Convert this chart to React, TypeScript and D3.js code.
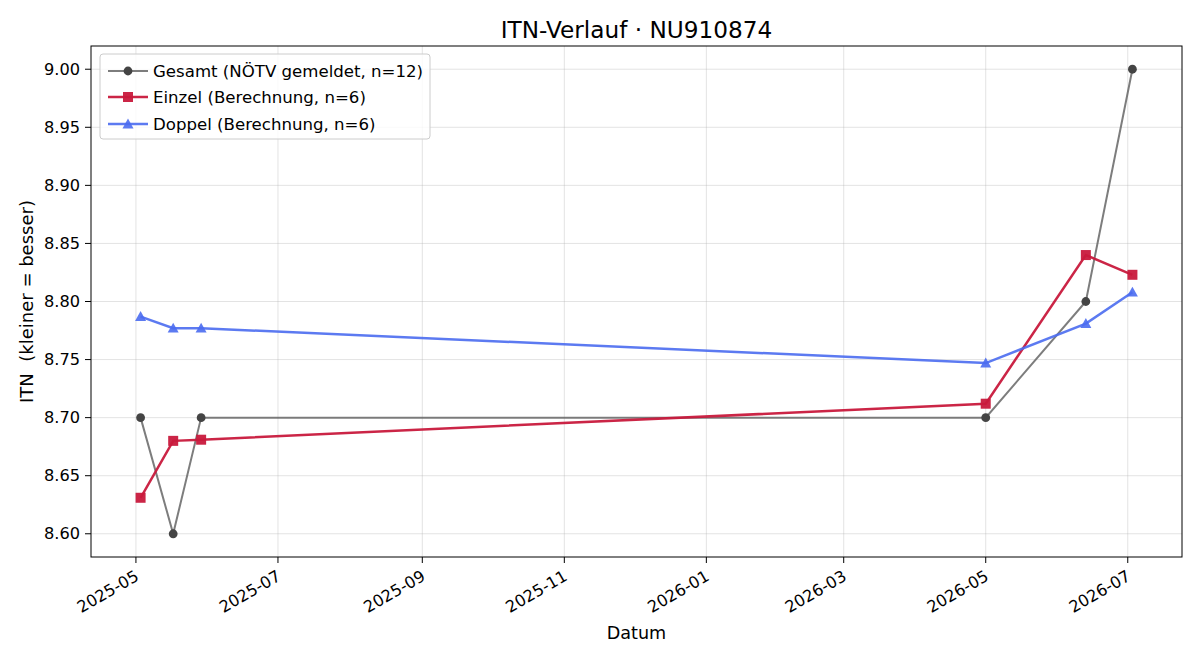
import React from "react";
import * as d3 from "d3";

const gesamtDates = ["2025-05-03", "2025-05-17", "2025-05-29", "2026-05-01", "2026-06-13", "2026-07-03"];
const gesamtValues = [8.7, 8.6, 8.7, 8.7, 8.8, 9.0];
const einzelDates = ["2025-05-03", "2025-05-17", "2025-05-29", "2026-05-01", "2026-06-13", "2026-07-03"];
const einzelValues = [8.631, 8.68, 8.681, 8.712, 8.84, 8.823];
const doppelDates = ["2025-05-03", "2025-05-17", "2025-05-29", "2026-05-01", "2026-06-13", "2026-07-03"];
const doppelValues = [8.787, 8.777, 8.777, 8.747, 8.781, 8.808];
const xTickDates = ["2025-05-01", "2025-07-01", "2025-09-01", "2025-11-01", "2026-01-01", "2026-03-01", "2026-05-01", "2026-07-01"];
const yTicks = [8.6, 8.65, 8.7, 8.75, 8.8, 8.85, 8.9, 8.95, 9.0];
const legendLabels = ["Gesamt (NÖTV gemeldet, n=12)", "Einzel (Berechnung, n=6)", "Doppel (Berechnung, n=6)"];

const W = 1200, H = 660;
const L = 91, R = 1182, T = 46, B = 557;
const FONT = "DejaVu Sans, sans-serif";

const parse = d3.utcParse("%Y-%m-%d");
const fmt = d3.utcFormat("%Y-%m");

export default function App() {
  const allDates = [...gesamtDates, ...einzelDates, ...doppelDates].map((d) => parse(d)!.getTime());
  const minD = d3.min(allDates)!, maxD = d3.max(allDates)!;
  const padX = (maxD - minD) * 0.05;
  const x = d3.scaleUtc().domain([new Date(minD - padX), new Date(maxD + padX)]).range([L, R]);
  const allV = [...gesamtValues, ...einzelValues, ...doppelValues];
  const minV = d3.min(allV)!, maxV = d3.max(allV)!;
  const padY = (maxV - minV) * 0.05;
  const y = d3.scaleLinear().domain([minV - padY, maxV + padY]).range([B, T]);

  const line = d3.line<[number, number]>().x((d) => d[0]).y((d) => d[1]);
  const pts = (ds: string[], vs: number[]) => ds.map((d, i) => [x(parse(d)!), y(vs[i])] as [number, number]);
  const gP = pts(gesamtDates, gesamtValues);
  const eP = pts(einzelDates, einzelValues);
  const dP = pts(doppelDates, doppelValues);

  const grey = "#666666";
  const red = "#c8193c";
  const blue = "#4a6cf0";

  const tri = (cx: number, cy: number, s: number) =>
    `M${cx},${cy - s} L${cx + s},${cy + s * 0.8} L${cx - s},${cy + s * 0.8} Z`;

  const legendY = [71, 97, 124];
  const tickFs = 16.2;

  return (
    <svg width={W} height={H} style={{ display: "block", position: "absolute", left: 0, top: 0 }} fontFamily={FONT}>
      <rect width={W} height={H} fill="white" />
      {/* grid */}
      {xTickDates.map((d) => (
        <line key={"gx" + d} x1={x(parse(d)!)} x2={x(parse(d)!)} y1={T} y2={B} stroke="#b0b0b0" strokeOpacity={0.35} strokeWidth={1} />
      ))}
      {yTicks.map((v) => (
        <line key={"gy" + v} x1={L} x2={R} y1={y(v)} y2={y(v)} stroke="#b0b0b0" strokeOpacity={0.35} strokeWidth={1} />
      ))}
      {/* Gesamt */}
      <path d={line(gP)!} fill="none" stroke={grey} strokeOpacity={0.85} strokeWidth={2} />
      {gP.map((p, i) => (
        <circle key={"g" + i} cx={p[0]} cy={p[1]} r={4.4} fill="#444444" />
      ))}
      {/* Einzel */}
      <path d={line(eP)!} fill="none" stroke={red} strokeOpacity={0.95} strokeWidth={2.5} />
      {eP.map((p, i) => (
        <rect key={"e" + i} x={p[0] - 5} y={p[1] - 5} width={10} height={10} fill={red} fillOpacity={0.95} />
      ))}
      {/* Doppel */}
      <path d={line(dP)!} fill="none" stroke={blue} strokeOpacity={0.9} strokeWidth={2.5} />
      {dP.map((p, i) => (
        <path key={"d" + i} d={tri(p[0], p[1], 5.5)} fill={blue} fillOpacity={0.9} />
      ))}
      {/* axes frame */}
      <rect x={L} y={T} width={R - L} height={B - T} fill="none" stroke="black" strokeWidth={1} />
      {/* x ticks */}
      {xTickDates.map((d) => {
        const xx = x(parse(d)!);
        return (
          <g key={"xt" + d}>
            <line x1={xx} x2={xx} y1={B} y2={B + 6} stroke="black" />
            <text
              transform={`translate(${xx - 2},${B + 12}) rotate(-30)`}
              textAnchor="end"
              dominantBaseline="hanging"
              fontSize={tickFs}
              fill="black"
            >
              {fmt(parse(d)!)}
            </text>
          </g>
        );
      })}
      {/* y ticks */}
      {yTicks.map((v) => (
        <g key={"yt" + v}>
          <line x1={L - 6} x2={L} y1={y(v)} y2={y(v)} stroke="black" />
          <text x={L - 11} y={y(v)} textAnchor="end" dominantBaseline="central" fontSize={tickFs} fill="black">
            {v.toFixed(2)}
          </text>
        </g>
      ))}
      {/* labels */}
      <text x={(L + R) / 2} y={29} textAnchor="middle" dominantBaseline="central" fontSize={23.2} fill="black">
        ITN-Verlauf · NU910874
      </text>
      <text x={(L + R) / 2} y={633} textAnchor="middle" dominantBaseline="central" fontSize={17.6} fill="black">
        Datum
      </text>
      <text
        transform={`translate(26,${(T + B) / 2}) rotate(-90)`}
        textAnchor="middle"
        dominantBaseline="central"
        fontSize={18}
        fill="black"
        style={{ whiteSpace: "pre" }}
      >
        {"ITN  (kleiner = besser)"}
      </text>
      {/* legend */}
      <rect x={100} y={54} width={330} height={85} rx={3} fill="white" fillOpacity={0.8} stroke="#cccccc" strokeWidth={1} />
      <line x1={108} x2={148} y1={legendY[0]} y2={legendY[0]} stroke={grey} strokeOpacity={0.85} strokeWidth={2} />
      <circle cx={128} cy={legendY[0]} r={4.4} fill="#444444" />
      <line x1={108} x2={148} y1={legendY[1]} y2={legendY[1]} stroke={red} strokeOpacity={0.95} strokeWidth={2.5} />
      <rect x={123} y={legendY[1] - 5} width={10} height={10} fill={red} fillOpacity={0.95} />
      <line x1={108} x2={148} y1={legendY[2]} y2={legendY[2]} stroke={blue} strokeOpacity={0.9} strokeWidth={2.5} />
      <path d={tri(128, legendY[2], 5.5)} fill={blue} fillOpacity={0.9} />
      {legendLabels.map((t, i) => (
        <text key={t} x={153} y={legendY[i]} dominantBaseline="central" fontSize={16.6} fill="black">
          {t}
        </text>
      ))}
    </svg>
  );
}
